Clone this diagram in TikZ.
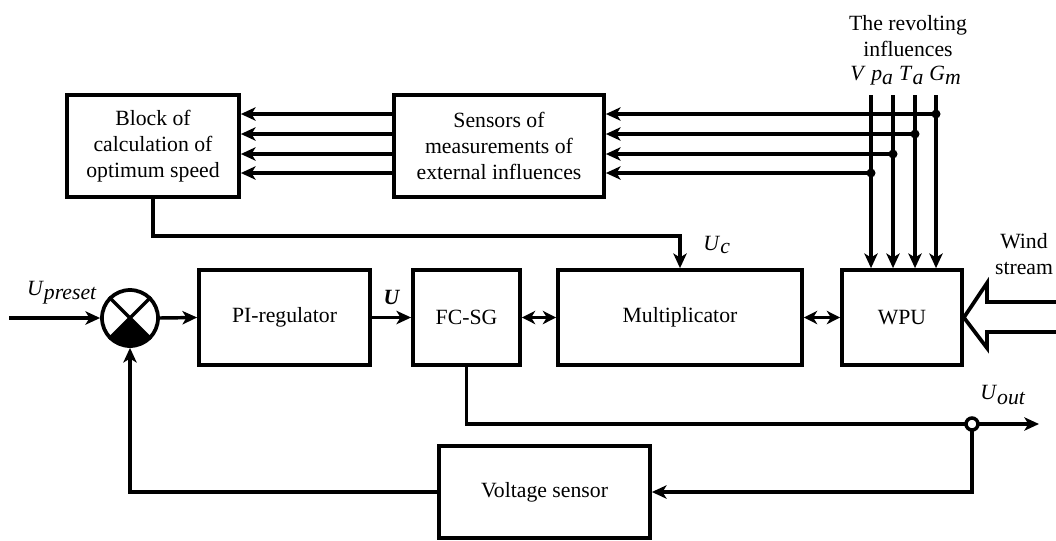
\documentclass[tikz,border=0pt]{standalone}
\usepackage{fontspec}
\setmainfont{Liberation Serif}
\usetikzlibrary{arrows.meta,calc}
\begin{document}
\begin{tikzpicture}[x=0.75pt,y=-0.75pt,
  font=\fontsize{16.3}{19.5}\selectfont,
  box/.style={draw,line width=2.8pt,align=center,inner sep=0pt},
  ln/.style={line width=2.6pt},
  arr/.style={ln,-{Stealth[length=11pt,width=10pt,inset=3pt]}},
  darr/.style={ln,{Stealth[length=10pt,width=10pt,inset=3pt]}-{Stealth[length=10pt,width=10pt,inset=3pt]}},
  lbl/.style={inner sep=0pt}]
\clip (0,0) rectangle (1056,540);
\fill[white] (0,0) rectangle (1056,540);
% blocks
\node[box,minimum width=172*0.75pt,minimum height=102*0.75pt] (calc) at (153,146) {Block of\\calculation of\\optimum speed};
\node[box,minimum width=210*0.75pt,minimum height=102*0.75pt] (sens) at (499,146) {Sensors of\\measurements of\\external influences};
\node[box,minimum width=171*0.75pt,minimum height=95*0.75pt] (pi) at (284.5,317.5) {PI-regulator};
\node[box,minimum width=107*0.75pt,minimum height=95*0.75pt] (fc) at (466.5,317.5) {FC-SG};
\node[box,minimum width=244*0.75pt,minimum height=95*0.75pt] (mult) at (680,317.5) {Multiplicator};
\node[box,minimum width=120*0.75pt,minimum height=95*0.75pt] (wpu) at (902,317.5) {WPU};
\node[box,minimum width=211*0.75pt,minimum height=92*0.75pt] (volt) at (544.5,492) {Voltage sensor};
% summing junction
\node[circle,draw,line width=2.8pt,minimum size=56*0.75pt,inner sep=0pt] (sum) at (130,318) {};
\begin{scope}
  \clip (sum.center) -- ($(sum.center)!3!(sum.-135)$) -- ($(sum.center)!3!(sum.-45)$) -- cycle;
  \fill (sum.center) circle[radius=28];
\end{scope}
\draw[line width=2.6pt] (sum.45) -- (sum.-135) (sum.135) -- (sum.-45);
% input
\coordinate (in) at (9,318);
\draw[arr] (in) -- (sum.west);
\node[lbl] at (62,293) {\textit{U}$_{\textit{preset}}$};
\draw[arr] (sum.east) -- (pi.west);
\draw[arr] (pi.east) -- (fc.west);
\node[lbl] at (392,297) {\textbf{\textit{U}}};
\draw[darr] (fc.east) -- (mult.west);
\draw[darr] (mult.east) -- (wpu.west);
% calc -> multiplicator
\draw[arr] (calc.south) -- ++(0,37) -| (mult.north);
\node[lbl] at (717,245) {\textit{U}$_{\textit{c}}$};
% sensors -> calc
\foreach \yy in {114,134,154,173}{
  \draw[arr] (sens.west |- 0,\yy) -- (calc.east |- 0,\yy);
}
% influences
\node[lbl,align=center,font=\fontsize{16.3}{20}\selectfont] (title) at (908,36) {The revolting\\influences};
\node[lbl] (syms) at (906,76) {\textit{V} \textit{p}$_{\textit{a}}$ \textit{T}$_{\textit{a}}$ \textit{G}$_{\textit{m}}$};
\coordinate (tV) at (871,95);
\coordinate (tp) at (893,95);
\coordinate (tT) at (915,95);
\coordinate (tG) at (936,95);
\foreach \c in {tV,tp,tT,tG}{
  \draw[arr] (\c) -- (\c |- wpu.north);
}
\foreach \c/\yy in {tG/114,tT/134,tp/154,tV/173}{
  \coordinate (j\c) at (\c |- 0,\yy);
  \fill (j\c) circle[radius=4.5];
  \draw[arr] (j\c) -- (sens.east |- j\c);
}
% wind stream
\draw[line width=2.8pt,fill=white] (wpu.east) -- (987,283) -- (987,302) -- (1070,302) -- (1070,332) -- (987,332) -- (987,348) -- cycle;
\node[lbl,align=center,font=\fontsize{16.3}{20}\selectfont] at (1024,254) {Wind\\stream};
% output
\coordinate (out) at (1039,424);
\coordinate (jo) at (972,424);
\draw[arr] (fc.south) |- (out);
\draw[arr] (jo) |- (volt.east);
\draw[line width=2.6pt,fill=white] (jo) circle[radius=6];
\node[lbl] at (1003,395) {\textit{U}$_{\textit{out}}$};
% feedback
\draw[arr] (volt.west) -| (sum.south);
\end{tikzpicture}
\end{document}
